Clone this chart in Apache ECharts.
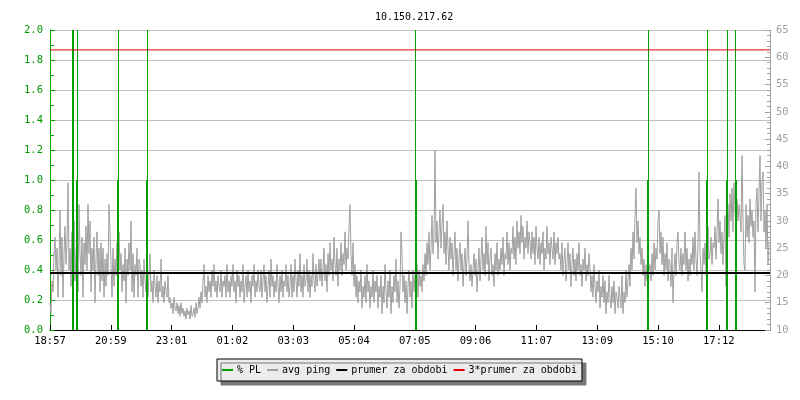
<!DOCTYPE html>
<html>
<head>
<meta charset="utf-8">
<script src="https://cdn.jsdelivr.net/npm/echarts@6/dist/echarts.min.js"></script>
<style>
html,body{margin:0;padding:0;background:#fff;}
#chart{width:800px;height:400px;}
</style>
</head>
<body>
<div id="chart"></div>
<script>
// ---- data ----
const titleText = '10.150.217.62';
const xTickLabels = ['18:57','20:59','23:01','01:02','03:03','05:04','07:05','09:06','11:07','13:09','15:10','17:12'];
const xTickStepMin = 121.6;      // minutes between labelled ticks
const xSpanMin = 1440;           // 24 h shown
const pingStepMin = 2;           // minutes between avg ping samples
// avg ping (ms, right axis), one value per 2 minutes starting 18:57 (one row = 1 hour)
const avgPing = [
  15, 13, 19, 17, 24, 27, 21, 25, 16, 22, 32, 20, 27, 16, 24, 29, 22, 26, 37, 21, 25, 18, 28, 16, 30, 19, 24, 27, 17, 33,
  24, 20, 27, 16, 26, 22, 29, 21, 33, 24, 30, 17, 25, 21, 27, 15, 23, 28, 20, 25, 17, 26, 19, 25, 16, 23, 18, 24, 20, 33,
  28, 22, 16, 25, 18, 23, 20, 26, 15, 28, 21, 24, 17, 22, 19, 25, 15, 23, 20, 26, 21, 30, 17, 24, 16, 22, 20, 25, 16, 23,
  22, 18, 21, 16, 23, 19, 17, 22, 16, 20, 24, 17, 19, 15, 21, 18, 16, 20, 15, 19, 17, 23, 16, 18, 15, 19, 17, 16, 20, 15,
  16, 14, 15, 13, 16, 14, 13.5, 15, 13, 14.5, 12.5, 15, 13, 14, 12.5, 13.5, 12, 14, 12.8, 13.5, 12, 14.5, 12.5, 13, 14, 12.3, 15, 13, 14, 16,
  14, 17, 15, 19, 22, 16, 18, 15, 20, 17, 19, 16, 21, 18, 22, 17, 19, 16, 20, 18, 17, 21, 16, 19, 18, 20, 16, 22, 17, 19,
  16, 20, 18, 22, 17, 19, 15, 21, 18, 20, 16, 19, 17, 22, 15, 18, 20, 16, 21, 17, 19, 15, 20, 18, 22, 16, 19, 17, 21, 18,
  17, 21, 16, 19, 22, 17, 20, 15, 18, 21, 16, 23, 18, 20, 16, 19, 17, 22, 18, 15, 20, 17, 21, 16, 19, 18, 22, 17, 20, 16,
  18, 22, 16, 20, 17, 23, 19, 16, 21, 18, 24, 17, 20, 16, 22, 18, 19, 23, 17, 21, 16, 20, 18, 24, 19, 17, 22, 18, 20, 23,
  19, 23, 18, 21, 25, 19, 22, 17, 24, 20, 26, 21, 23, 19, 27, 22, 20, 25, 18, 23, 21, 26, 20, 24, 22, 28, 21, 25, 23, 29,
  33, 24, 20, 26, 18, 22, 16, 20, 15, 19, 17, 21, 14, 18, 16, 20, 15, 22, 17, 19, 14, 18, 16, 21, 15, 19, 17, 20, 14, 18,
  16, 20, 13, 18, 15, 22, 17, 14, 19, 16, 21, 13, 18, 15, 20, 17, 23, 15, 19, 14, 18, 28, 24, 17, 20, 15, 19, 13, 18, 21,
  16, 19, 14, 21, 17, 20, 18, 22, 16, 21, 18, 20, 17, 22, 19, 24, 20, 26, 22, 28, 21, 25, 31, 24, 27, 43, 26, 30, 23, 28,
  32, 25, 29, 33, 24, 28, 22, 30, 25, 21, 27, 23, 26, 20, 24, 28, 21, 25, 19, 23, 26, 21, 24, 18, 22, 25, 20, 23, 30, 22,
  19, 22, 18, 21, 24, 20, 23, 17, 21, 25, 19, 23, 27, 21, 24, 20, 29, 22, 26, 19, 23, 25, 20, 22, 18, 24, 21, 26, 20, 23,
  21, 25, 22, 27, 20, 24, 23, 28, 22, 26, 21, 25, 24, 29, 23, 27, 22, 30, 25, 28, 24, 31, 26, 29, 23, 27, 25, 30, 24, 28,
  26, 23, 28, 24, 27, 22, 29, 25, 23, 27, 22, 26, 24, 28, 21, 25, 23, 29, 24, 26, 22, 27, 25, 23, 28, 22, 26, 24, 27, 23,
  24, 21, 26, 20, 23, 25, 19, 22, 26, 21, 24, 18, 22, 25, 20, 23, 19, 24, 21, 26, 20, 22, 18, 23, 21, 25, 19, 22, 20, 24,
  21, 17, 20, 16, 22, 18, 15, 19, 17, 21, 14, 18, 16, 20, 15, 19, 13, 17, 15, 20, 16, 14, 18, 15, 19, 13, 17, 16, 14, 18,
  18, 14, 20, 13, 17, 15, 21, 16, 19, 22, 18, 25, 21, 28, 23, 31, 36, 26, 30, 24, 27, 22, 25, 20, 23, 18, 22, 19, 24, 21,
  22, 19, 24, 20, 26, 21, 25, 23, 30, 32, 24, 28, 22, 27, 20, 24, 21, 26, 19, 23, 22, 18, 25, 15, 21, 24, 20, 26, 28, 22,
  21, 25, 20, 24, 22, 28, 21, 25, 19, 23, 20, 24, 22, 27, 21, 28, 23, 20, 26, 39, 24, 21, 17, 25, 22, 26, 20, 24, 29, 23,
  24, 27, 22, 26, 25, 29, 23, 28, 34, 26, 30, 24, 28, 22, 27, 31, 18, 29, 33, 27, 35, 30, 36, 28, 37, 32, 29, 34, 30, 33,
  31, 28, 42, 30, 22, 21, 33, 27, 31, 26, 34, 29, 32, 27, 30, 17, 33, 36, 28, 35, 42, 30, 37, 39, 28, 32, 25, 33, 22, 26
];
// packet loss (%): partial-loss samples
const plPartialTimes = [46, 54, 136, 194, 732, 1196, 1314, 1354, 1372];
const plPartialValues = [1, 1, 1, 1, 1, 1, 1, 1, 1];
// packet loss (%): full-loss samples (off the scale)
const plFullTimes = [45, 47, 55, 137, 195, 731, 1197, 1315, 1355, 1371];
const plFullValues = [100, 100, 100, 100, 100, 100, 100, 100, 100, 100];
const meanPing = 20.45;
const meanPing3 = 61.35;

// ---- chart ----
const MONO = '"DejaVu Sans Mono", "Liberation Mono", monospace';
const GREEN = '#00a000';
const chart = echarts.init(document.getElementById('chart'), null, {renderer: 'canvas'});

function barRenderer(width) {
  return function (params, api) {
    const t = api.value(0), v = api.value(1);
    const p0 = api.coord([t, 0]);
    const p1 = api.coord([t, v]);
    const cs = params.coordSys;
    const rect = echarts.graphic.clipRectByRect(
      {x: p0[0] - width / 2, y: p1[1], width: width, height: p0[1] - p1[1]},
      {x: cs.x, y: cs.y, width: cs.width, height: cs.height}
    );
    return rect && {type: 'rect', shape: rect, style: {fill: GREEN}};
  };
}

const pingData = avgPing.map((v, i) => [i * pingStepMin, v]);

chart.setOption({
  animation: false,
  backgroundColor: '#ffffff',
  title: {
    text: titleText,
    left: 370,
    top: 7,
    textStyle: {fontFamily: MONO, fontSize: 10, fontWeight: 'normal', color: '#000'}
  },
  grid: {left: 50, right: 30, top: 30, bottom: 70, containLabel: false},
  legend: {
    left: 217,
    top: 359,
    padding: [6, 5, 6, 5],
    itemGap: 6,
    itemWidth: 11,
    itemHeight: 2,
    icon: 'rect',
    selectedMode: false,
    backgroundColor: '#ececec',
    borderColor: '#000',
    borderWidth: 1,
    borderRadius: 0,
    shadowColor: '#777',
    shadowBlur: 0,
    shadowOffsetX: 4,
    shadowOffsetY: 4,
    textStyle: {fontFamily: MONO, fontSize: 10, color: '#000', padding: [0, 0, 0, -1]},
    data: ['% PL', 'avg ping', 'prumer za obdobi', '3*prumer za obdobi']
  },
  xAxis: {
    type: 'value',
    min: 0,
    max: xSpanMin,
    interval: xTickStepMin,
    axisLine: {show: true, lineStyle: {color: '#000', width: 1}},
    axisTick: {show: true, inside: true, length: 5, lineStyle: {color: '#000'}},
    axisLabel: {
      fontFamily: MONO, fontSize: 10.5, color: '#000', margin: 6,
      showMaxLabel: false,
      formatter: function (v) {
        const k = Math.round(v / xTickStepMin);
        if (Math.abs(k * xTickStepMin - v) > 0.01) return '';
        return xTickLabels[k] || '';
      }
    },
    splitLine: {show: false}
  },
  yAxis: [
    {
      type: 'value', min: 0, max: 2, interval: 0.2, position: 'left',
      axisLine: {show: true, lineStyle: {color: GREEN, width: 1}},
      axisTick: {show: true, inside: true, length: 5, lineStyle: {color: GREEN}},
      minorTick: {show: true, splitNumber: 2, length: 4, lineStyle: {color: GREEN}},
      axisLabel: {fontFamily: MONO, fontSize: 10.5, color: '#009900', margin: 7,
        formatter: v => v.toFixed(1)},
      splitLine: {show: true, lineStyle: {color: '#c0c0c0', width: 1}}
    },
    {
      type: 'value', min: 10, max: 65, interval: 5, position: 'right',
      axisLine: {show: true, lineStyle: {color: '#a0a0a0', width: 1}},
      axisTick: {show: true, inside: true, length: 5, lineStyle: {color: '#a0a0a0'}},
      minorTick: {show: true, splitNumber: 5, length: 3, lineStyle: {color: '#a0a0a0'}},
      axisLabel: {fontFamily: MONO, fontSize: 10.5, color: '#a0a0a0', margin: 6},
      splitLine: {show: false}
    }
  ],
  series: [
    {
      name: 'avg ping', type: 'line', yAxisIndex: 1, z: 2,
      data: pingData, showSymbol: false, symbol: 'none',
      lineStyle: {color: '#a0a0a0', width: 1}, itemStyle: {color: '#a0a0a0'}
    },
    {
      name: '% PL', type: 'custom', yAxisIndex: 0, z: 3,
      itemStyle: {color: GREEN},
      encode: {x: 0, y: 1},
      renderItem: barRenderer(2),
      data: plPartialTimes.map((t, i) => [t, plPartialValues[i]])
    },
    {
      name: '% PL', type: 'custom', yAxisIndex: 0, z: 3,
      itemStyle: {color: GREEN},
      encode: {x: 0, y: 1},
      renderItem: barRenderer(1),
      data: plFullTimes.map((t, i) => [t, plFullValues[i]])
    },
    {
      name: 'prumer za obdobi', type: 'line', yAxisIndex: 1, z: 4,
      data: [[0, meanPing], [xSpanMin, meanPing]], showSymbol: false, symbol: 'none',
      lineStyle: {color: '#000', width: 2}, itemStyle: {color: '#000'}
    },
    {
      name: '3*prumer za obdobi', type: 'line', yAxisIndex: 1, z: 4,
      data: [[0, meanPing3], [xSpanMin, meanPing3]], showSymbol: false, symbol: 'none',
      lineStyle: {color: '#e00000', width: 1}, itemStyle: {color: '#e00000'}
    }
  ]
});
</script>
</body>
</html>
